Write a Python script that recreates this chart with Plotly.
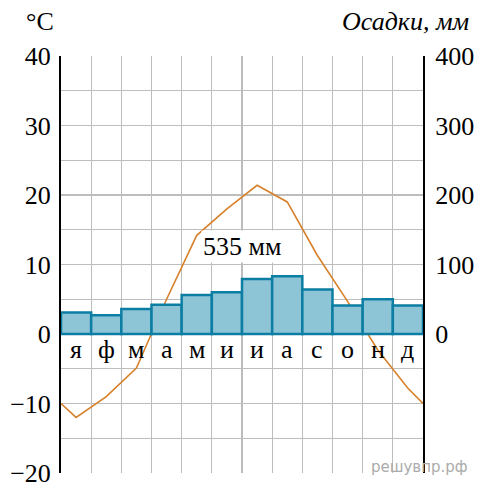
import plotly.graph_objects as go

months = ["я", "ф", "м", "а", "м", "и", "и", "а", "с", "о", "н", "д"]
precip_mm = [31, 27, 36, 42, 56, 60, 79, 83, 64, 41, 50, 41]
temp_c = [-12, -9, -4.9, 5, 14.2, 18, 21.4, 19, 11.3, 4.7, -2.3, -7.8]
temp_edge = -10  # value at the start/end of the year (chart edges)
temp_ticks = [-20, -10, 0, 10, 20, 30, 40]
temp_labels = ["\u221220", "\u221210", "0", "10", "20", "30", "40"]
precip_ticks = [0, 100, 200, 300, 400]
total_label = "535 мм"

xc = [i + 0.5 for i in range(12)]
serif = "Liberation Serif"
FS = 26

W, H = 479, 488
PL, PR, PT, PB = 61, 423, 56, 473  # plot area in page pixels
pw, ph = PR - PL, PB - PT


def px(xp):
    return (xp - PL) / pw


def py(yp):
    return (PB - yp) / ph


fig = go.Figure()
fig.add_trace(go.Bar(
    x=xc, y=precip_mm, width=1, yaxis="y2",
    marker=dict(color="#8DC4D6", line=dict(color="#0C7EA3", width=2.5)),
    hoverinfo="skip",
))
fig.add_trace(go.Scatter(
    x=[0] + xc + [12], y=[temp_edge] + temp_c + [temp_edge],
    mode="lines", line=dict(color="#D7812B", width=1.6), yaxis="y",
    hoverinfo="skip", cliponaxis=False,
))

grid_vals = list(range(-20, 41, 5))
grid_text = [temp_labels[temp_ticks.index(v)] if v in temp_ticks else "" for v in grid_vals]

fig.update_layout(
    width=W, height=H, autosize=False,
    margin=dict(l=PL, r=W - PR, t=PT, b=H - PB, autoexpand=False),
    plot_bgcolor="white", paper_bgcolor="white",
    showlegend=False, bargap=0,
    font=dict(family=serif, size=FS, color="black"),
    xaxis=dict(range=[0, 12], tickvals=list(range(13)), showticklabels=False,
               showgrid=True, gridcolor="#BDBDBD", gridwidth=1.2, zeroline=False,
               showline=False, fixedrange=True, automargin=False),
    yaxis=dict(range=[-20, 40], tickvals=grid_vals, ticktext=grid_text,
               showgrid=True, gridcolor="#BDBDBD", gridwidth=1.2,
               zeroline=True, zerolinecolor="black", zerolinewidth=2,
               showline=True, linecolor="black", linewidth=2,
               ticks="", ticklabelstandoff=3, automargin=False,
               ticklabeloverflow="allow",
               tickfont=dict(family=serif, size=FS, color="black")),
    yaxis2=dict(range=[-200, 400], overlaying="y", side="right",
                tickvals=precip_ticks, ticktext=[str(v) for v in precip_ticks],
                showgrid=False, zeroline=False,
                showline=True, linecolor="black", linewidth=2,
                ticks="", ticklabelstandoff=5, automargin=False,
                ticklabeloverflow="allow",
                tickfont=dict(family=serif, size=FS, color="black")),
)

for x, m in zip(xc, months):
    fig.add_annotation(x=x, y=-2.2, xref="x", yref="y", text=m, showarrow=False,
                       font=dict(family=serif, size=FS, color="black"))

fig.add_annotation(x=6.0, y=12.6, xref="x", yref="y", text=total_label, showarrow=False,
                   bgcolor="white", font=dict(family=serif, size=FS, color="black"),
                   borderpad=1)

fig.add_annotation(x=px(24), y=py(21), xref="paper", yref="paper", text="°C",
                   showarrow=False, xanchor="left", yanchor="middle",
                   font=dict(family=serif, size=FS, color="black"))
fig.add_annotation(x=px(471), y=py(21), xref="paper", yref="paper",
                   text="<i>Осадки, мм</i>", showarrow=False, xanchor="right",
                   yanchor="middle", font=dict(family=serif, size=FS, color="black"))
fig.add_annotation(x=px(470), y=py(467), xref="paper", yref="paper",
                   text="решувпр.рф", showarrow=False, xanchor="right", yanchor="middle",
                   font=dict(family="DejaVu Sans", size=15, color="#ABABAB"))

fig.write_html("out.html",
               config={"displayModeBar": False, "staticPlot": True},
               post_script="document.body.style.margin='0';"
                           "document.body.style.overflow='hidden';")
